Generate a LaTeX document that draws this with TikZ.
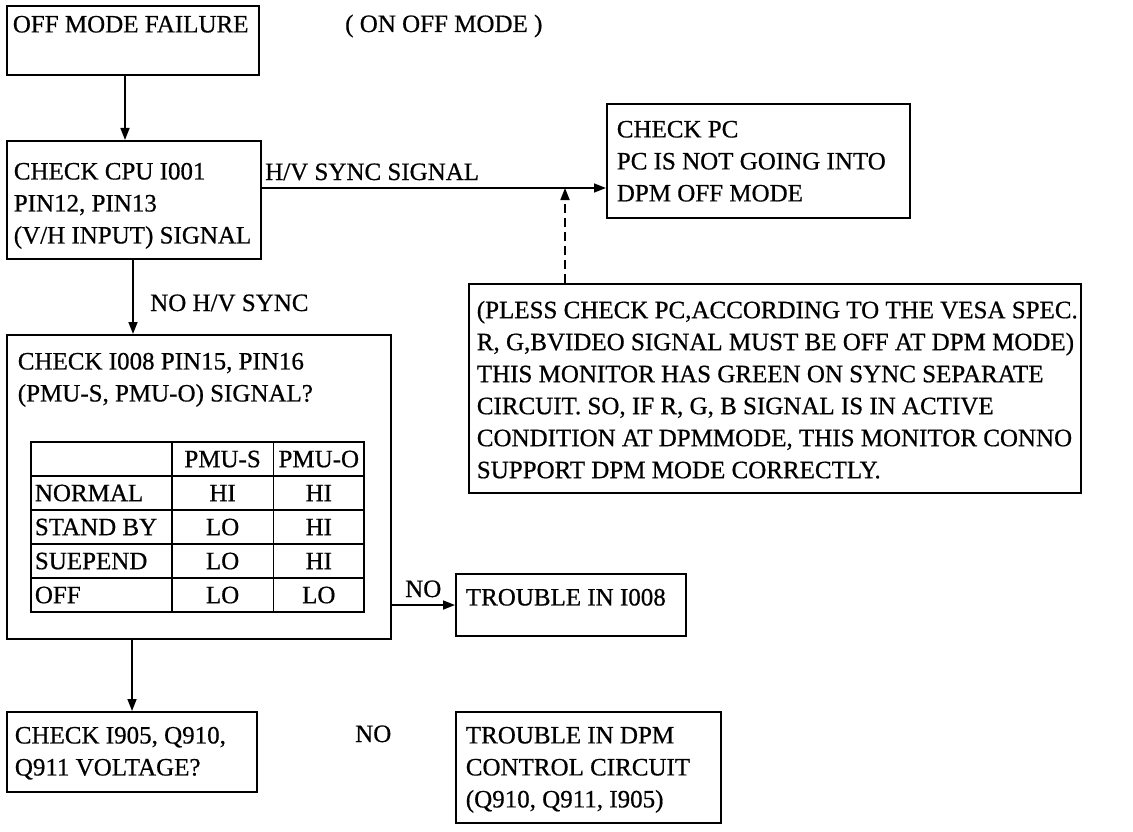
\documentclass[tikz,border=0pt]{standalone}
\usepackage{fontspec}
\setmainfont{Liberation Serif}[FakeBold=0.6]
\usepackage{array}
\usetikzlibrary{arrows.meta}
\newcommand\bxfont{\fontsize{25}{32}\selectfont}
% width, height, pad x, pad top, text
\newcommand\bxtext[5]{\parbox[t][#2][t]{#1}{\raggedright\setlength\leftskip{#3}\vspace*{#4}#5}}
\newcommand\rowstrut{\rule[-8pt]{0pt}{32.3pt}}
\begin{document}
\begin{tikzpicture}[x=1pt,y=-1pt,
  every node/.style={font=\bxfont},
  box/.style={draw, line width=1.7pt, inner sep=0pt, anchor=north west},
  lbl/.style={inner sep=0pt, anchor=base west},
  arr/.style={-{Triangle[length=12pt,width=9pt]}, line width=1.7pt},
  darr/.style={arr, dash pattern=on 9pt off 5pt}]
\useasboundingbox (0,0) rectangle (1133,832);

\node[box] (b1) at (6,5) {\bxtext{252pt}{69pt}{6pt}{10pt}{OFF MODE FAILURE}};
\node[lbl] (mode) at (345,32) {( ON OFF MODE )};

\node[box] (b2) at (6,140) {\bxtext{254pt}{118pt}{7pt}{22pt}{CHECK CPU I001\\PIN12, PIN13\\(V/H INPUT) SIGNAL}};

\node[box] (b4) at (606,103) {\bxtext{303pt}{114pt}{10pt}{17pt}{CHECK PC\\PC IS NOT GOING INTO\\DPM OFF MODE}};

\node[box] (b5) at (468,283) {\bxtext{612pt}{209pt}{8pt}{17pt}{(PLESS CHECK PC,ACCORDING TO THE VESA SPEC.\\R, G,BVIDEO SIGNAL MUST BE OFF AT DPM MODE)\\THIS MONITOR HAS GREEN ON SYNC SEPARATE\\CIRCUIT. SO, IF R, G, B SIGNAL IS IN ACTIVE\\CONDITION AT DPMMODE, THIS MONITOR CONNO\\SUPPORT DPM MODE CORRECTLY.}};

\node[box] (b3) at (6,334) {\bxtext{384pt}{304pt}{11pt}{18pt}{CHECK I008 PIN15, PIN16\\(PMU-S, PMU-O) SIGNAL?}};

\node[anchor=north west, inner sep=0pt] (tbl) at (30,441) {%
\setlength\tabcolsep{0pt}\setlength\arrayrulewidth{1.7pt}\renewcommand\arraystretch{0.5}%
\begin{tabular}{|>{\hspace{3pt}}p{139pt}|>{\centering\arraybackslash}p{100pt}|>{\centering\arraybackslash}p{89pt}|}
\hline
\rowstrut & PMU-S & PMU-O\\ \hline
\rowstrut NORMAL & HI & HI\\ \hline
\rowstrut STAND BY & LO & HI\\ \hline
\rowstrut SUEPEND & LO & HI\\ \hline
\rowstrut OFF & LO & LO\\ \hline
\end{tabular}};

\node[box] (b7) at (455,573) {\bxtext{230pt}{62pt}{10pt}{15pt}{TROUBLE IN I008}};
\node[box] (b6) at (6,711) {\bxtext{250pt}{80pt}{8pt}{15pt}{CHECK I905, Q910,\\Q911 VOLTAGE?}};
\node[box] (b8) at (455,711) {\bxtext{265pt}{111pt}{10pt}{15pt}{TROUBLE IN DPM\\CONTROL CIRCUIT\\(Q910, Q911, I905)}};

% connectors
\draw[arr] ([xshift=119pt]b1.south west) -- ([xshift=119pt]b2.north west);

\coordinate (hv) at (0,188);
\draw[arr] (b2.east |- hv) -- (b4.west |- hv);
\node[lbl] (hvlbl) at (265,180) {H/V SYNC SIGNAL};

\coordinate (dtip) at (565,188);
\draw[darr] (b5.north west -| dtip) -- (dtip);

\draw[arr] ([xshift=127pt]b2.south west) -- ([xshift=127pt]b3.north west);
\node[lbl] (nohv) at (150,311) {NO H/V SYNC};

\coordinate (noy) at (0,605);
\draw[arr] (b3.east |- noy) -- (b7.west |- noy);
\node[lbl] (no1) at (405,597) {NO};

\draw[arr] ([xshift=126pt]b3.south west) -- ([xshift=126pt]b6.north west);
\node[lbl] (no2) at (355,742) {NO};
\end{tikzpicture}
\end{document}
